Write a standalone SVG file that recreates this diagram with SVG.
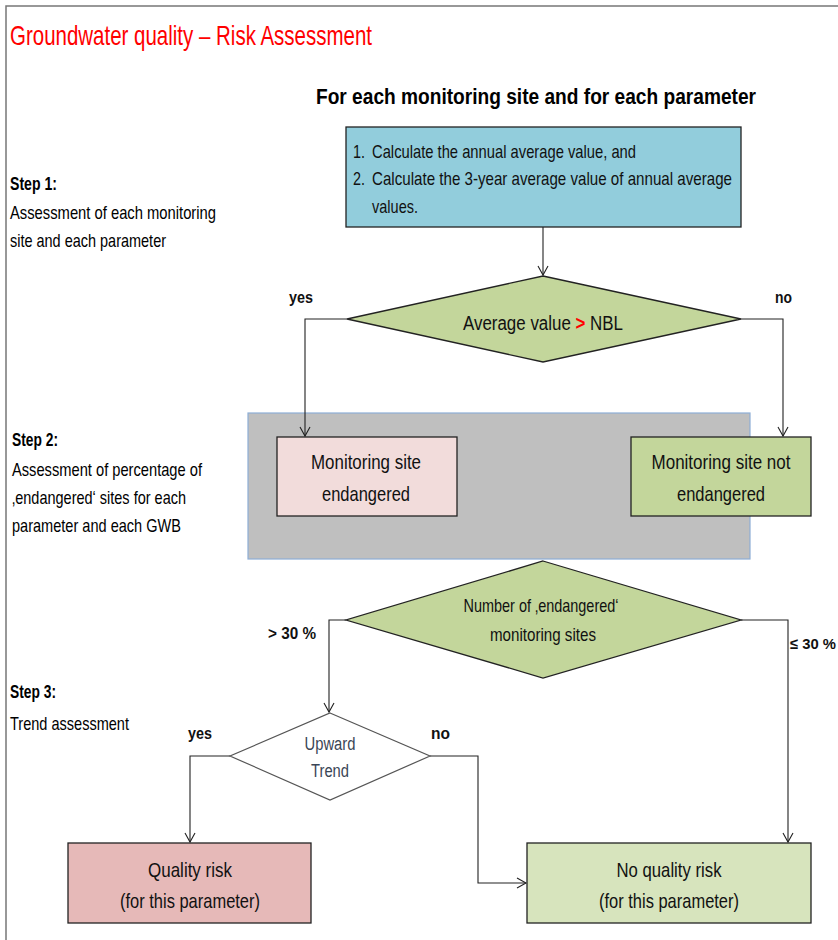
<svg xmlns="http://www.w3.org/2000/svg" width="838" height="940" viewBox="0 0 838 940">
<defs>
<style>
.cal{font-family:"Liberation Sans Narrow","Liberation Sans",Arial,sans-serif;}
.t{font-family:"Liberation Sans Narrow","Liberation Sans",Arial,sans-serif;fill:#111;}
.b{font-weight:bold;}
.box{stroke:#222;stroke-width:1.3;}
.con{fill:none;stroke:#222;stroke-width:1.1;}
</style>
<marker id="arr" markerWidth="12" markerHeight="12" refX="10" refY="6" orient="auto" markerUnits="userSpaceOnUse">
<path d="M1,1 L10,6 L1,11" fill="none" stroke="#222" stroke-width="1.1"/>
</marker>
</defs>
<rect x="0" y="0" width="838" height="940" fill="#fff"/>
<path d="M6,940 V6 H838" fill="none" stroke="#777" stroke-width="1.5"/>

<g id="title">
<text class="cal" x="10" y="45" font-size="28" fill="#f00" textLength="362" lengthAdjust="spacingAndGlyphs">Groundwater quality – Risk Assessment</text>
<text class="cal b" x="316" y="104" font-size="22" fill="#000" textLength="440" lengthAdjust="spacingAndGlyphs">For each monitoring site and for each parameter</text>
</g>

<g id="steps" class="cal" fill="#000">
<text class="cal b" x="10" y="190" font-size="18" textLength="47" lengthAdjust="spacingAndGlyphs">Step 1:</text>
<text x="10" y="219" font-size="19" textLength="206" lengthAdjust="spacingAndGlyphs">Assessment of each monitoring</text>
<text x="10" y="247" font-size="19" textLength="156" lengthAdjust="spacingAndGlyphs">site and each parameter</text>
<text class="cal b" x="12" y="446" font-size="18" textLength="46" lengthAdjust="spacingAndGlyphs">Step 2:</text>
<text x="12" y="476" font-size="19" textLength="190" lengthAdjust="spacingAndGlyphs">Assessment of percentage of</text>
<text x="12" y="504" font-size="19" textLength="174" lengthAdjust="spacingAndGlyphs">‚endangered‘ sites for each</text>
<text x="12" y="532" font-size="19" textLength="169" lengthAdjust="spacingAndGlyphs">parameter and each GWB</text>
<text class="cal b" x="10" y="698" font-size="18" textLength="46" lengthAdjust="spacingAndGlyphs">Step 3:</text>
<text x="10" y="730" font-size="19" textLength="119" lengthAdjust="spacingAndGlyphs">Trend assessment</text>
</g>

<g id="step2-area">
<rect x="248" y="413" width="502" height="146" fill="#bfbfbf" stroke="#8eaed6" stroke-width="1.2"/>
</g>

<g id="connectors">
<path class="con" d="M543,227 V275" marker-end="url(#arr)"/>
<path class="con" d="M347,319 H305 V436" marker-end="url(#arr)"/>
<path class="con" d="M741,319 H783 V436" marker-end="url(#arr)"/>
<path class="con" d="M346,620 H329 V712" marker-end="url(#arr)"/>
<path class="con" d="M741,620 H788 V842" marker-end="url(#arr)"/>
<path class="con" d="M230,756 H190 V842" marker-end="url(#arr)"/>
<path class="con" d="M430,756 H478 V883 H526" marker-end="url(#arr)"/>
<g class="t b" font-size="17">
<text x="289" y="303" textLength="24" lengthAdjust="spacingAndGlyphs">yes</text>
<text x="775" y="303" textLength="17" lengthAdjust="spacingAndGlyphs">no</text>
<text x="268" y="639" textLength="48" lengthAdjust="spacingAndGlyphs">&gt; 30 %</text>
<text x="790" y="649" font-size="15.5" textLength="46" lengthAdjust="spacingAndGlyphs">≤ 30 %</text>
<text x="188" y="739" textLength="24" lengthAdjust="spacingAndGlyphs">yes</text>
<text x="431" y="739" textLength="19" lengthAdjust="spacingAndGlyphs">no</text>
</g>
</g>

<g id="calc">
<rect class="box" x="346" y="127" width="395" height="100" fill="#92cddc"/>
<g class="t" font-size="19">
<text x="353" y="158" textLength="12" lengthAdjust="spacingAndGlyphs">1.</text>
<text x="372" y="158" textLength="264" lengthAdjust="spacingAndGlyphs">Calculate the annual average value, and</text>
<text x="353" y="185" textLength="12" lengthAdjust="spacingAndGlyphs">2.</text>
<text x="372" y="185" textLength="360" lengthAdjust="spacingAndGlyphs">Calculate the 3-year average value of annual average</text>
<text x="372" y="213" textLength="46" lengthAdjust="spacingAndGlyphs">values.</text>
</g>
</g>

<g id="decision-nbl">
<polygon class="box" points="543,276 741,319 543,362 347,319" fill="#c3d69b" stroke-width="1"/>
<text class="t" x="463" y="330" font-size="19.5" textLength="160" lengthAdjust="spacingAndGlyphs">Average value <tspan fill="#f00" font-weight="bold">&gt;</tspan> NBL</text>
</g>

<g id="site-endangered">
<rect class="box" x="277" y="437" width="180" height="79" fill="#f2dcdb"/>
<g class="t" font-size="21" text-anchor="middle">
<text x="366" y="469" textLength="110" lengthAdjust="spacingAndGlyphs">Monitoring site</text>
<text x="366" y="501" textLength="88" lengthAdjust="spacingAndGlyphs">endangered</text>
</g>
</g>

<g id="site-not-endangered">
<rect class="box" x="631" y="437" width="180" height="79" fill="#c3d69b"/>
<g class="t" font-size="21" text-anchor="middle">
<text x="721" y="469" textLength="139" lengthAdjust="spacingAndGlyphs">Monitoring site not</text>
<text x="721" y="501" textLength="88" lengthAdjust="spacingAndGlyphs">endangered</text>
</g>
</g>

<g id="decision-percentage">
<polygon class="box" points="543,561 741,620 543,678 346,620" fill="#c3d69b" stroke-width="1"/>
<g class="t" font-size="19" text-anchor="middle">
<text x="541" y="612" textLength="155" lengthAdjust="spacingAndGlyphs">Number of ‚endangered‘</text>
<text x="543" y="641" textLength="106" lengthAdjust="spacingAndGlyphs">monitoring sites</text>
</g>
</g>

<g id="decision-trend">
<polygon points="330,713 430,756 330,800 230,756" fill="#fff" stroke="#555" stroke-width="1.2"/>
<g font-family="Liberation Sans Narrow,Liberation Sans,Arial,sans-serif" font-size="18" fill="#3a4656" text-anchor="middle">
<text x="330" y="750" textLength="51" lengthAdjust="spacingAndGlyphs">Upward</text>
<text x="330" y="777" textLength="38" lengthAdjust="spacingAndGlyphs">Trend</text>
</g>
</g>

<g id="quality-risk">
<rect class="box" x="68" y="843" width="243" height="80" fill="#e6b9b8"/>
<g class="t" font-size="21" text-anchor="middle">
<text x="190" y="877" textLength="84" lengthAdjust="spacingAndGlyphs">Quality risk</text>
<text x="190" y="908" textLength="140" lengthAdjust="spacingAndGlyphs">(for this parameter)</text>
</g>
</g>

<g id="no-quality-risk">
<rect class="box" x="527" y="843" width="284" height="80" fill="#d7e4bd"/>
<g class="t" font-size="21" text-anchor="middle">
<text x="669" y="877" textLength="105" lengthAdjust="spacingAndGlyphs">No quality risk</text>
<text x="669" y="908" textLength="140" lengthAdjust="spacingAndGlyphs">(for this parameter)</text>
</g>
</g>
</svg>
